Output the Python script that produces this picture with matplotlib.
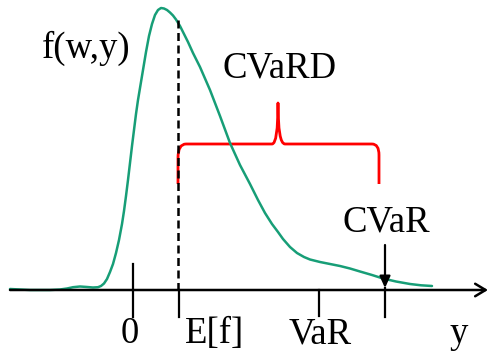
import matplotlib
matplotlib.use("Agg")
import matplotlib.pyplot as plt
from matplotlib.path import Path
from matplotlib.patches import PathPatch

# density curve f(w,y) (schematic units, y axis pointing down on canvas)
curve_x = [10, 30, 50, 60, 67, 73, 80, 87, 93, 98, 101, 104, 107, 110, 113, 116, 119, 122,
           124, 126, 128, 130, 132, 134, 136, 138, 140, 143, 146, 149, 152, 155, 158, 161,
           164, 167, 170, 173, 176, 180, 184, 188, 193, 200, 210, 220, 230, 240,
           250, 258, 265, 272, 278, 283, 290, 297, 304, 310, 320, 330, 340, 350, 360,
           372, 383, 396, 410, 421, 432]
curve_y = [289, 290, 290, 289.5, 288.5, 287.2, 286.5, 287, 287.5, 287.2, 286, 283.5, 279, 272, 264, 253, 240, 224,
           211, 196, 180, 163, 146, 130, 114, 100, 88, 70, 52, 36, 24, 15, 10, 8,
           8.5, 10, 12.5, 15.5, 19.5, 26, 34, 42, 53, 67, 90, 116, 143, 165,
           184, 200, 213, 224, 232, 239, 247, 253, 257, 259.5, 262, 264, 266, 268.5, 271.5,
           275, 278.5, 281.5, 284, 285.3, 286]

axis_y = 290
axis_x0, axis_x1 = 10, 488
mean_x = 177.5
mean_top = 20
zero_x = 133
var_x = 319
cvar_x = 385

brace_left, brace_right, brace_mid = 178, 379, 278
brace_bar, brace_bottom, brace_tip = 144, 184, 103

green = "#179e77"

fig = plt.figure(figsize=(4.88, 3.51), dpi=100)
ax = fig.add_axes([0, 0, 1, 1])
ax.set_xlim(0, 488)
ax.set_ylim(351, 0)
ax.axis("off")

# curve
ax.plot(curve_x, curve_y, color=green, lw=1.8, solid_joinstyle="round", solid_capstyle="round")

# horizontal axis with arrow
ax.annotate("", xy=(axis_x1, axis_y), xytext=(axis_x0, axis_y),
            arrowprops=dict(arrowstyle="->,head_length=0.75,head_width=0.45",
                            lw=1.8, color="black", shrinkA=0, shrinkB=0, mutation_scale=10))

# ticks
ax.plot([zero_x, zero_x], [264, 317], color="black", lw=1.6)
ax.plot([mean_x + 1, mean_x + 1], [axis_y, 317], color="black", lw=1.6)
ax.plot([var_x, var_x], [axis_y, 316], color="black", lw=1.6)
ax.plot([cvar_x, cvar_x], [axis_y - 2, 317], color="black", lw=1.6)
ax.annotate("", xy=(cvar_x, 288), xytext=(cvar_x, 245),
            arrowprops=dict(arrowstyle="-|>,head_length=0.7,head_width=0.32",
                            lw=1.6, color="black", shrinkA=0, shrinkB=0, mutation_scale=10))

# dashed mean line
ax.plot([mean_x, mean_x], [mean_top, axis_y], color="black", lw=1.8, linestyle=(0, (3.2, 1.8)))

# brace
verts = [
    (brace_left, brace_bottom),
    (brace_left, brace_bar + 14),
    (brace_left, brace_bar), (brace_left + 8, brace_bar),
    (brace_mid - 6, brace_bar),
    (brace_mid, brace_bar), (brace_mid, brace_tip),
    (brace_mid, brace_bar), (brace_mid + 7, brace_bar),
    (brace_right - 7, brace_bar),
    (brace_right, brace_bar), (brace_right, brace_bar + 11),
    (brace_right, brace_bottom),
]
codes = [Path.MOVETO, Path.LINETO, Path.CURVE3, Path.CURVE3, Path.LINETO,
         Path.CURVE3, Path.CURVE3, Path.CURVE3, Path.CURVE3, Path.LINETO,
         Path.CURVE3, Path.CURVE3, Path.LINETO]
ax.add_patch(PathPatch(Path(verts, codes), facecolor="none", edgecolor="red", lw=2.0,
                       capstyle="butt", joinstyle="round"))

font = dict(family="Liberation Serif", fontsize=26.5, color="black", va="baseline")
ax.text(42, 58, "f(w,y)", ha="left", **font)
ax.text(222, 77, "CVaRD", ha="left", **font)
ax.text(342, 232, "CVaR", ha="left", **font)
ax.text(130, 343, "0", ha="center", **font)
ax.text(185, 343, "E[f]", ha="left", **font)
ax.text(320, 343, "VaR", ha="center", **font)
ax.text(459, 343, "y", ha="center", **font)

fig.savefig("out.png", dpi=100)
